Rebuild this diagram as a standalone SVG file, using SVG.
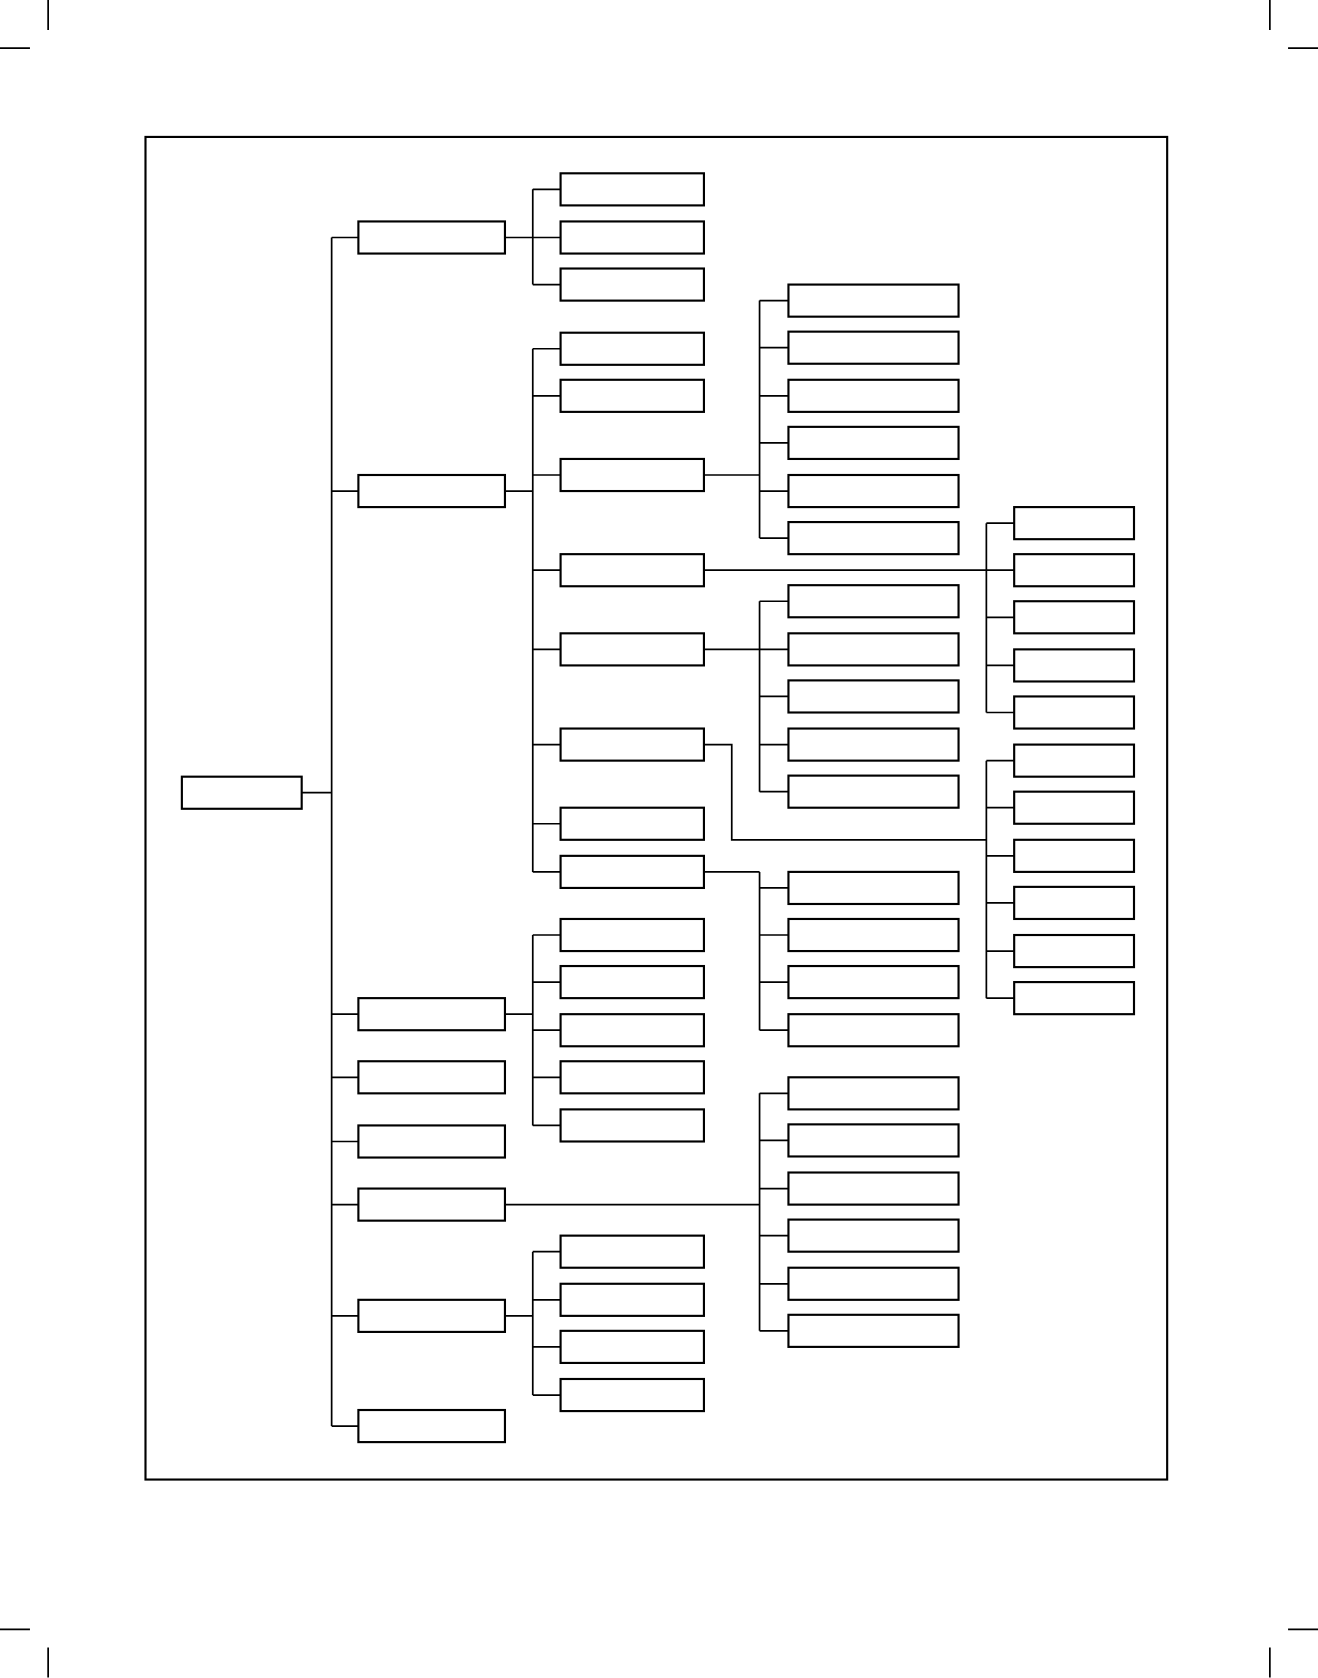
<svg xmlns="http://www.w3.org/2000/svg" width="1318" height="1678" viewBox="0 0 1318 1678">
<style>
.b{fill:#fff;stroke:#000;stroke-width:2}
.c{fill:none;stroke:#000;stroke-width:1.6}
</style>
<rect width="1318" height="1678" fill="#fff"/>
<g transform="scale(1.06981)">
<g id="cropmarks" class="c">
<path d="M45 0V28M0 45H28M1187 0V28M1204 45H1232M45 1540V1568M0 1523H28M1187 1540V1568M1204 1523H1232"/>
</g>
<rect id="frame" x="136" y="128" width="955" height="1255" class="b"/>
<g id="connectors" class="c">
<path d="M282 741H310M310 222V1333"/>
<path d="M310 222H335M310 459H335M310 948H335M310 1007H335M310 1067H335M310 1126H335M310 1230H335M310 1333H335"/>
<path d="M472 222H498M498 177V266M498 177H524M498 222H524M498 266H524"/>
<path d="M472 459H498M498 326V815M498 326H524M498 370H524M498 444H524M498 533H524M498 607H524M498 696H524M498 770H524M498 815H524"/>
<path d="M472 948H498M498 874V1052M498 874H524M498 918H524M498 963H524M498 1007H524M498 1052H524"/>
<path d="M472 1230H498M498 1170V1304M498 1170H524M498 1215H524M498 1259H524M498 1304H524"/>
<path d="M472 1126H710M710 1022V1244M710 1022H737M710 1066H737M710 1111H737M710 1155H737M710 1200H737M710 1244H737"/>
<path d="M658 444H710M710 281V503M710 281H737M710 325H737M710 370H737M710 414H737M710 459H737M710 503H737"/>
<path d="M658 607H710M710 562V740M710 562H737M710 607H737M710 651H737M710 696H737M710 740H737"/>
<path d="M658 815H710M710 830V963M710 815V830M710 830H737M710 874H737M710 918H737M710 963H737"/>
<path d="M658 533H922M922 489V666M922 489H948M922 533H948M922 577H948M922 622H948M922 666H948"/>
<path d="M658 696H684V785H922M922 711V933M922 711H948M922 755H948M922 800H948M922 844H948M922 889H948M922 933H948"/>
</g>
<g id="root"><rect x="170" y="726" width="112" height="30" class="b"/></g>
<g id="level1">
<rect x="335" y="207" width="137" height="30" class="b"/>
<rect x="335" y="444" width="137" height="30" class="b"/>
<rect x="335" y="933" width="137" height="30" class="b"/>
<rect x="335" y="992" width="137" height="30" class="b"/>
<rect x="335" y="1052" width="137" height="30" class="b"/>
<rect x="335" y="1111" width="137" height="30" class="b"/>
<rect x="335" y="1215" width="137" height="30" class="b"/>
<rect x="335" y="1318" width="137" height="30" class="b"/>
</g>
<g id="level2">
<rect x="524" y="162" width="134" height="30" class="b"/>
<rect x="524" y="207" width="134" height="30" class="b"/>
<rect x="524" y="251" width="134" height="30" class="b"/>
<rect x="524" y="311" width="134" height="30" class="b"/>
<rect x="524" y="355" width="134" height="30" class="b"/>
<rect x="524" y="429" width="134" height="30" class="b"/>
<rect x="524" y="518" width="134" height="30" class="b"/>
<rect x="524" y="592" width="134" height="30" class="b"/>
<rect x="524" y="681" width="134" height="30" class="b"/>
<rect x="524" y="755" width="134" height="30" class="b"/>
<rect x="524" y="800" width="134" height="30" class="b"/>
<rect x="524" y="859" width="134" height="30" class="b"/>
<rect x="524" y="903" width="134" height="30" class="b"/>
<rect x="524" y="948" width="134" height="30" class="b"/>
<rect x="524" y="992" width="134" height="30" class="b"/>
<rect x="524" y="1037" width="134" height="30" class="b"/>
<rect x="524" y="1155" width="134" height="30" class="b"/>
<rect x="524" y="1200" width="134" height="30" class="b"/>
<rect x="524" y="1244" width="134" height="30" class="b"/>
<rect x="524" y="1289" width="134" height="30" class="b"/>
</g>
<g id="level3">
<rect x="737" y="266" width="159" height="30" class="b"/>
<rect x="737" y="310" width="159" height="30" class="b"/>
<rect x="737" y="355" width="159" height="30" class="b"/>
<rect x="737" y="399" width="159" height="30" class="b"/>
<rect x="737" y="444" width="159" height="30" class="b"/>
<rect x="737" y="488" width="159" height="30" class="b"/>
<rect x="737" y="547" width="159" height="30" class="b"/>
<rect x="737" y="592" width="159" height="30" class="b"/>
<rect x="737" y="636" width="159" height="30" class="b"/>
<rect x="737" y="681" width="159" height="30" class="b"/>
<rect x="737" y="725" width="159" height="30" class="b"/>
<rect x="737" y="815" width="159" height="30" class="b"/>
<rect x="737" y="859" width="159" height="30" class="b"/>
<rect x="737" y="903" width="159" height="30" class="b"/>
<rect x="737" y="948" width="159" height="30" class="b"/>
<rect x="737" y="1007" width="159" height="30" class="b"/>
<rect x="737" y="1051" width="159" height="30" class="b"/>
<rect x="737" y="1096" width="159" height="30" class="b"/>
<rect x="737" y="1140" width="159" height="30" class="b"/>
<rect x="737" y="1185" width="159" height="30" class="b"/>
<rect x="737" y="1229" width="159" height="30" class="b"/>
</g>
<g id="level4">
<rect x="948" y="474" width="112" height="30" class="b"/>
<rect x="948" y="518" width="112" height="30" class="b"/>
<rect x="948" y="562" width="112" height="30" class="b"/>
<rect x="948" y="607" width="112" height="30" class="b"/>
<rect x="948" y="651" width="112" height="30" class="b"/>
<rect x="948" y="696" width="112" height="30" class="b"/>
<rect x="948" y="740" width="112" height="30" class="b"/>
<rect x="948" y="785" width="112" height="30" class="b"/>
<rect x="948" y="829" width="112" height="30" class="b"/>
<rect x="948" y="874" width="112" height="30" class="b"/>
<rect x="948" y="918" width="112" height="30" class="b"/>
</g>
</g>
</svg>
